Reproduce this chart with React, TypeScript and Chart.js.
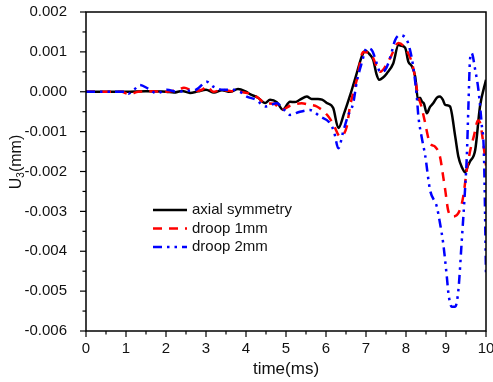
import React, { useEffect, useRef } from "react";
import { Chart, registerables } from "chart.js";

Chart.register(...registerables);

// ---- data (time in ms, U3 in mm) ----
const axialTime = [0, 0.5, 1.0, 1.5, 2.0, 2.2, 2.4, 2.6, 2.8, 3.0, 3.2, 3.4, 3.6, 3.8, 4.0, 4.1, 4.3, 4.48, 4.6, 4.77, 4.92, 5.1, 5.22, 5.35, 5.52, 5.64, 5.8, 5.9, 6.02, 6.18, 6.31, 6.45, 6.6, 6.75, 6.9, 6.98, 7.08, 7.18, 7.26, 7.33, 7.42, 7.52, 7.68, 7.81, 7.89, 7.98, 8.06, 8.14, 8.23, 8.3, 8.35, 8.4, 8.45, 8.52, 8.6, 8.68, 8.78, 8.85, 8.92, 8.98, 9.1, 9.23, 9.31, 9.4, 9.48, 9.55, 9.6, 9.73, 9.85, 10.0];
const axialU3 = [0, 0, 0, 0.00001, 0, -0.00002, 0.00002, -0.00003, 0.00001, 0.00005, -0.00002, 0.00004, 0, 0.00007, 0, -0.00006, -0.00015, -0.00028, -0.0002, -0.00026, -0.00045, -0.00025, -0.00026, -0.0002, -0.00012, -0.00018, -0.00018, -0.0002, -0.00028, -0.00041, -0.00091, -0.00055, -0.0001, 0.0004, 0.0009, 0.00103, 0.00095, 0.0008, 0.00045, 0.0003, 0.00035, 0.00046, 0.00071, 0.00117, 0.00115, 0.0011, 0.00075, 0.00065, 0.00038, -0.0002, -0.00015, -0.00025, -0.0003, -0.00054, -0.00038, -0.00029, -0.00014, -0.00012, -0.0002, -0.00033, -0.00037, -0.00112, -0.00163, -0.0019, -0.00202, -0.00185, -0.00175, -0.00146, -0.00037, 0.0003];

const droop1Time = [0, 0.5, 0.9, 1.0, 1.1, 1.3, 1.6, 2.0, 2.3, 2.45, 2.7, 2.9, 3.02, 3.18, 3.4, 3.6, 3.85, 4.1, 4.3, 4.48, 4.7, 4.89, 5.1, 5.39, 5.6, 5.77, 6.06, 6.2, 6.35, 6.52, 6.6, 6.77, 6.93, 7.14, 7.35, 7.6, 7.81, 7.98, 8.14, 8.22, 8.29, 8.38, 8.45, 8.6, 8.73, 8.85, 8.93, 8.98, 9.06, 9.18, 9.35, 9.43, 9.52, 9.6, 9.7, 9.8, 9.86, 9.92, 10.0];
const droop1U3 = [0, 0, 0, -0.00004, -0.00006, 0, 0.00001, 0, 0.00005, 0.0001, 0.00002, 0.00005, 0.00014, 0, 0.00005, 0.00002, 0, -0.00005, -0.00015, -0.00029, -0.0003, -0.00046, -0.00035, -0.00029, -0.00033, -0.00037, -0.00062, -0.00085, -0.00112, -0.00087, -0.00037, 0.0003, 0.001, 0.00092, 0.0005, 0.00084, 0.00122, 0.00109, 0.00075, 0.0004, -0.00005, -0.00035, -0.00065, -0.00129, -0.00138, -0.00163, -0.00213, -0.00246, -0.003, -0.00313, -0.00296, -0.00263, -0.00196, -0.0015, -0.0011, -0.00072, -0.0008, -0.0012, -0.00185];

const droop2Time = [0, 0.5, 1.0, 1.06, 1.2, 1.35, 1.55, 1.77, 2.02, 2.27, 2.5, 2.75, 3.02, 3.18, 3.43, 3.68, 3.85, 4.02, 4.25, 4.48, 4.77, 4.95, 5.1, 5.35, 5.6, 5.85, 6.1, 6.2, 6.31, 6.43, 6.55, 6.68, 6.77, 6.89, 7.02, 7.14, 7.27, 7.35, 7.48, 7.6, 7.73, 7.85, 8.02, 8.1, 8.18, 8.27, 8.31, 8.39, 8.48, 8.6, 8.77, 8.85, 8.93, 9.02, 9.06, 9.14, 9.23, 9.31, 9.39, 9.48, 9.52, 9.56, 9.6, 9.64, 9.73, 9.81, 9.89, 9.95, 10.0];
const droop2U3 = [0, 0, 0, -0.00005, 0.00005, 0.00017, 0.00008, -0.00004, 0.00005, 0, 0.00002, 0.00005, 0.00025, 0.00013, 0.00005, 0.00005, 0, -0.00012, -0.0002, -0.00037, -0.00029, -0.00045, -0.00058, -0.0005, -0.00046, -0.00062, -0.00079, -0.001, -0.00142, -0.001, -0.0006, -0.00029, 0.00025, 0.00071, 0.00109, 0.00105, 0.00071, 0.0005, 0.00055, 0.00084, 0.0013, 0.00142, 0.0013, 0.00105, 0.00063, -0.00012, -0.00062, -0.00113, -0.0016, -0.00246, -0.00288, -0.0033, -0.0038, -0.00463, -0.00505, -0.00539, -0.00539, -0.00497, -0.0038, -0.00238, -0.00163, -0.00037, 0.0008, 0.00097, 0.00055, 0.00005, -0.00079, -0.00163, -0.0046];

const seriesLabels = ["axial symmetry", "droop 1mm", "droop 2mm"];
const xTickValues = [0, 1, 2, 3, 4, 5, 6, 7, 8, 9, 10];
const yTickValues = [-0.006, -0.005, -0.004, -0.003, -0.002, -0.001, 0, 0.001, 0.002];

const FONT = "'Liberation Sans', Arial, sans-serif";
const COLORS = ["#000000", "#ff0000", "#0000ff"];
const DASHES: number[][] = [[], [9, 7], [9, 5, 2.5, 5, 2.5, 5]];

const toPoints = (t: number[], v: number[]) => t.map((x, i) => ({ x, y: v[i] }));

const zeroPad = (s: any) => {
  s.paddingLeft = 0;
  s.paddingRight = 0;
  s.paddingTop = 0;
  s.paddingBottom = 0;
};

const decorPlugin = {
  id: "decor",
  afterDraw(chart: any) {
    const { ctx, chartArea: a, scales } = chart;
    const xs = scales.x;
    const ys = scales.y;
    ctx.save();
    ctx.strokeStyle = "#000";
    ctx.lineWidth = 1.5;
    ctx.setLineDash([]);
    ctx.strokeRect(a.left, a.top, a.right - a.left, a.bottom - a.top);
    ctx.lineWidth = 1.2;
    for (let i = 0; i < xTickValues.length; i++) {
      const v = xTickValues[i];
      const px = xs.getPixelForValue(v);
      ctx.beginPath();
      ctx.moveTo(px, a.bottom);
      ctx.lineTo(px, a.bottom + 6);
      ctx.stroke();
      if (i < xTickValues.length - 1) {
        const pm = xs.getPixelForValue((v + xTickValues[i + 1]) / 2);
        ctx.beginPath();
        ctx.moveTo(pm, a.bottom);
        ctx.lineTo(pm, a.bottom + 3.5);
        ctx.stroke();
      }
    }
    for (let i = 0; i < yTickValues.length; i++) {
      const v = yTickValues[i];
      const py = ys.getPixelForValue(v);
      ctx.beginPath();
      ctx.moveTo(a.left - 6, py);
      ctx.lineTo(a.left, py);
      ctx.stroke();
      if (i < yTickValues.length - 1) {
        const pm = ys.getPixelForValue((v + yTickValues[i + 1]) / 2);
        ctx.beginPath();
        ctx.moveTo(a.left - 3.5, pm);
        ctx.lineTo(a.left, pm);
        ctx.stroke();
      }
    }
    ctx.fillStyle = "#111";
    ctx.font = `17px ${FONT}`;
    ctx.textAlign = "center";
    ctx.textBaseline = "middle";
    ctx.fillText("time(ms)", (a.left + a.right) / 2, 369);
    ctx.save();
    ctx.translate(15, 162);
    ctx.rotate(-Math.PI / 2);
    ctx.textBaseline = "alphabetic";
    ctx.textAlign = "left";
    ctx.font = `16px ${FONT}`;
    const wU = ctx.measureText("U").width;
    const wP = ctx.measureText("(mm)").width;
    ctx.font = `10px ${FONT}`;
    const w3 = ctx.measureText("3").width;
    const total = wU + w3 + wP;
    let cx = -total / 2;
    ctx.font = `16px ${FONT}`;
    ctx.fillText("U", cx, 5.5);
    cx += wU;
    ctx.font = `10px ${FONT}`;
    ctx.fillText("3", cx, 8.5);
    cx += w3;
    ctx.font = `16px ${FONT}`;
    ctx.fillText("(mm)", cx, 5.5);
    ctx.restore();
    const rows = [210, 228.5, 247];
    ctx.font = `15px ${FONT}`;
    ctx.textAlign = "left";
    ctx.textBaseline = "middle";
    for (let i = 0; i < seriesLabels.length; i++) {
      const y = rows[i];
      ctx.strokeStyle = COLORS[i];
      ctx.lineWidth = 2.5;
      ctx.setLineDash(DASHES[i]);
      ctx.beginPath();
      ctx.moveTo(153, y);
      ctx.lineTo(187, y);
      ctx.stroke();
      ctx.setLineDash([]);
      ctx.fillStyle = "#111";
      ctx.fillText(seriesLabels[i], 192, y);
    }
    ctx.restore();
  },
};

export default function App() {
  const ref = useRef<HTMLCanvasElement>(null);
  useEffect(() => {
    document.body.style.margin = "0";
    const canvas = ref.current;
    if (!canvas) return;
    const chart = new Chart(canvas, {
      type: "line",
      data: {
        datasets: [
          { label: seriesLabels[0], data: toPoints(axialTime, axialU3), borderColor: COLORS[0], borderWidth: 2.5, borderDash: DASHES[0], pointRadius: 0, cubicInterpolationMode: "monotone", order: 2 },
          { label: seriesLabels[1], data: toPoints(droop1Time, droop1U3), borderColor: COLORS[1], borderWidth: 2.5, borderDash: DASHES[1], pointRadius: 0, cubicInterpolationMode: "monotone", order: 1 },
          { label: seriesLabels[2], data: toPoints(droop2Time, droop2U3), borderColor: COLORS[2], borderWidth: 2.5, borderDash: DASHES[2], pointRadius: 0, cubicInterpolationMode: "monotone", order: 0 },
        ] as any,
      },
      options: {
        animation: false,
        responsive: false,
        maintainAspectRatio: false,
        layout: { padding: { top: 12, right: 7, left: 0, bottom: 0 } },
        plugins: { legend: { display: false }, tooltip: { enabled: false } },
        scales: {
          x: {
            type: "linear",
            min: 0,
            max: 10,
            grid: { display: false },
            border: { display: false },
            afterFit: (s: any) => { s.height = 51; zeroPad(s); },
            afterBuildTicks: (s: any) => { s.ticks = xTickValues.map((v) => ({ value: v })); },
            ticks: { padding: 1, color: "#111", font: { family: FONT, size: 15 }, maxRotation: 0, autoSkip: false, callback: (v: any) => String(v) },
          },
          y: {
            type: "linear",
            min: -0.006,
            max: 0.002,
            grid: { display: false },
            border: { display: false },
            afterFit: (s: any) => { s.width = 86; zeroPad(s); },
            afterBuildTicks: (s: any) => { s.ticks = yTickValues.map((v) => ({ value: v })); },
            ticks: { padding: 11, color: "#111", font: { family: FONT, size: 15 }, callback: (v: any) => (Math.abs(Number(v)) < 1e-9 ? "0.000" : Number(v).toFixed(3)) },
          },
        },
      },
      plugins: [decorPlugin],
    });
    return () => chart.destroy();
  }, []);
  return (
    <div style={{ width: 493, height: 382 }}>
      <canvas ref={ref} width={493} height={382} style={{ display: "block" }} />
    </div>
  );
}
